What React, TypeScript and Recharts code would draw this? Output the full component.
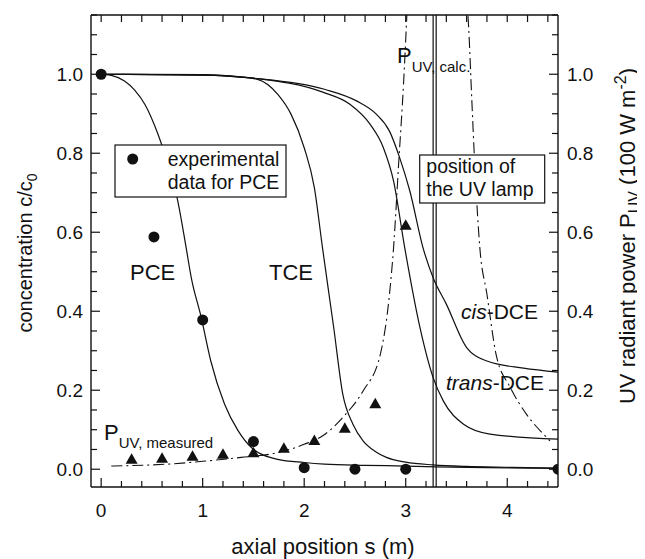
import React from "react";
import { ComposedChart, Line, Scatter, XAxis, YAxis, ReferenceLine } from "recharts";

// axis ticks (labels only on the major ones)
const xTicks = [0, 0.2, 0.4, 0.6, 0.8, 1, 1.2, 1.4, 1.6, 1.8, 2, 2.2, 2.4, 2.6, 2.8, 3, 3.2, 3.4, 3.6, 3.8, 4, 4.2, 4.4];
const yTicks = [0, 0.05, 0.1, 0.15, 0.2, 0.25, 0.3, 0.35, 0.4, 0.45, 0.5, 0.55, 0.6, 0.65, 0.7, 0.75, 0.8, 0.85, 0.9, 0.95, 1, 1.05, 1.1, 1.15];

// model curves, c/c0 vs axial position s (m)
const pceX = [0, 0.1, 0.23, 0.33, 0.43, 0.56, 0.66, 0.755, 0.837, 0.887, 0.985, 1.08, 1.215, 1.35, 1.48, 1.74, 2.0, 2.2, 2.6, 3.0, 3.3, 3.8, 4.5];
const pceC = [1.0, 0.997, 0.983, 0.96, 0.924, 0.848, 0.772, 0.679, 0.561, 0.486, 0.385, 0.274, 0.165, 0.097, 0.055, 0.025, 0.017, 0.013, 0.01, 0.008, 0.006, 0.004, 0.002];

const tceX = [0, 0.5, 1.0, 1.3, 1.54, 1.74, 1.87, 2.0, 2.1, 2.18, 2.29, 2.38, 2.48, 2.58, 2.7, 2.81, 3.0, 3.27, 3.6, 4.0, 4.5];
const tceC = [1.0, 1.0, 0.999, 0.995, 0.987, 0.949, 0.899, 0.814, 0.713, 0.561, 0.36, 0.19, 0.114, 0.072, 0.045, 0.03, 0.018, 0.011, 0.007, 0.005, 0.003];

const cisX = [0, 1.0, 1.5, 2.2, 2.52, 2.71, 2.84, 2.94, 3.04, 3.17, 3.27, 3.4, 3.6, 3.8, 4.16, 4.5];
const cisC = [1.0, 0.998, 0.99, 0.962, 0.932, 0.899, 0.856, 0.789, 0.705, 0.561, 0.485, 0.418, 0.308, 0.274, 0.256, 0.246];

const transX = [0, 1.0, 1.5, 2.19, 2.45, 2.65, 2.78, 2.88, 2.99, 3.14, 3.27, 3.37, 3.57, 3.83, 4.5];
const transC = [1.0, 0.998, 0.99, 0.954, 0.924, 0.873, 0.814, 0.73, 0.561, 0.359, 0.232, 0.173, 0.114, 0.089, 0.076];

// experimental PCE data
const expX = [0, 0.52, 1.0, 1.5, 2.0, 2.5, 3.0, 4.5];
const expC = [1.0, 0.588, 0.378, 0.07, 0.004, 0.0, 0.0, 0.0];

// UV radiant power (100 W m-2)
const puvMeasX = [0.3, 0.6, 0.9, 1.2, 1.5, 1.8, 2.1, 2.4, 2.7, 3.0];
const puvMeasY = [0.025, 0.028, 0.033, 0.038, 0.042, 0.053, 0.073, 0.104, 0.166, 0.618];

const puvCalcLeftX = [0.1, 0.72, 1.0, 1.38, 1.74, 2.0, 2.19, 2.38, 2.58, 2.75, 2.84, 2.88, 2.93, 2.98, 3.02];
const puvCalcLeftY = [0.008, 0.014, 0.02, 0.03, 0.042, 0.063, 0.086, 0.131, 0.198, 0.291, 0.443, 0.56, 0.772, 0.983, 1.2];

const puvCalcRightX = [3.6, 3.62, 3.65, 3.68, 3.73, 3.8, 3.89, 4.03, 4.19, 4.39, 4.42];
const puvCalcRightY = [1.2, 1.118, 0.941, 0.772, 0.561, 0.443, 0.291, 0.207, 0.139, 0.08, 0.072];

const lampX = [3.27, 3.3];

const toPts = (xs: number[], ys: number[]) => xs.map((x, i) => ({ x, y: ys[i] }));
const isMajor = (v: number, step: number) => Math.abs(v / step - Math.round(v / step)) < 1e-6;

const FONT = "'Liberation Sans', Arial, Helvetica, sans-serif";
const INK = "#111";

const BottomTick = (props: any) => {
  const { x, y, payload } = props;
  const major = isMajor(payload.value, 1);
  return (
    <g>
      <line x1={x} y1={y} x2={x} y2={y - (major ? 9 : 6)} stroke={INK} strokeWidth={1.2} />
      {major && (
        <text x={x} y={y + 30} textAnchor="middle" fontSize={19} fontFamily={FONT} fill={INK}>
          {payload.value}
        </text>
      )}
    </g>
  );
};

const TopTick = (props: any) => {
  const { x, y } = props;
  return <line x1={x} y1={y} x2={x} y2={y + 7} stroke={INK} strokeWidth={1.2} />;
};

const LeftTick = (props: any) => {
  const { x, y, payload } = props;
  const major = isMajor(payload.value, 0.2);
  return (
    <g>
      <line x1={x} y1={y} x2={x + (major ? 9 : 6)} y2={y} stroke={INK} strokeWidth={1.2} />
      {major && (
        <text x={x - 8} y={y + 7} textAnchor="end" fontSize={19} fontFamily={FONT} fill={INK}>
          {payload.value.toFixed(1)}
        </text>
      )}
    </g>
  );
};

const RightTick = (props: any) => {
  const { x, y, payload } = props;
  const major = isMajor(payload.value, 0.2);
  return (
    <g>
      <line x1={x} y1={y} x2={x - (major ? 9 : 6)} y2={y} stroke={INK} strokeWidth={1.2} />
      {major && (
        <text x={x + 9} y={y + 7} textAnchor="start" fontSize={19} fontFamily={FONT} fill={INK}>
          {payload.value.toFixed(1)}
        </text>
      )}
    </g>
  );
};

const Dot = (p: any) => <circle cx={p.cx} cy={p.cy} r={5.5} fill={INK} />;
const Tri = (p: any) => {
  const { cx, cy } = p;
  return <polygon points={`${cx - 6},${cy + 4.5} ${cx + 6},${cy + 4.5} ${cx},${cy - 6}`} fill={INK} />;
};

const curveProps = {
  type: "monotone" as const,
  dataKey: "y",
  stroke: INK,
  strokeWidth: 1.2,
  dot: false,
  activeDot: false,
  isAnimationActive: false,
  xAxisId: "x",
};

export default function App() {
  const W = 637;
  const H = 551;
  return (
    <div style={{ position: "relative", width: W, height: H, fontFamily: FONT }}>
      <ComposedChart width={W} height={H} margin={{ top: 6, right: 27, bottom: 32, left: 23 }}>
        <XAxis
          xAxisId="x"
          dataKey="x"
          type="number"
          domain={[-0.1, 4.5]}
          allowDataOverflow
          ticks={xTicks}
          interval={0}
          height={40}
          tickSize={0}
          tickMargin={0}
          tickLine={false}
          axisLine={{ stroke: INK, strokeWidth: 1.4 }}
          tick={BottomTick}
        />
        <XAxis
          xAxisId="top"
          orientation="top"
          dataKey="x"
          type="number"
          domain={[-0.1, 4.5]}
          allowDataOverflow
          ticks={xTicks}
          interval={0}
          height={1}
          tickSize={0}
          tickMargin={0}
          tickLine={false}
          axisLine={{ stroke: INK, strokeWidth: 1.4 }}
          tick={TopTick}
        />
        <YAxis
          yAxisId="left"
          dataKey="y"
          type="number"
          domain={[-0.045, 1.15]}
          allowDataOverflow
          ticks={yTicks}
          interval={0}
          width={60}
          tickSize={0}
          tickMargin={0}
          tickLine={false}
          axisLine={{ stroke: INK, strokeWidth: 1.4 }}
          tick={LeftTick}
        />
        <YAxis
          yAxisId="right"
          orientation="right"
          dataKey="y"
          type="number"
          domain={[-0.045, 1.15]}
          allowDataOverflow
          ticks={yTicks}
          interval={0}
          width={60}
          tickSize={0}
          tickMargin={0}
          tickLine={false}
          axisLine={{ stroke: INK, strokeWidth: 1.4 }}
          tick={RightTick}
        />

        {lampX.map((lx) => (
          <ReferenceLine key={lx} x={lx} xAxisId="x" yAxisId="left" stroke={INK} strokeWidth={1.2} />
        ))}

        <Line {...curveProps} yAxisId="left" data={toPts(pceX, pceC)} />
        <Line {...curveProps} yAxisId="left" data={toPts(tceX, tceC)} />
        <Line {...curveProps} yAxisId="left" data={toPts(cisX, cisC)} />
        <Line {...curveProps} yAxisId="left" data={toPts(transX, transC)} />
        <Line {...curveProps} yAxisId="right" data={toPts(puvCalcLeftX, puvCalcLeftY)} strokeWidth={1.1} strokeDasharray="11 4 2 4" />
        <Line {...curveProps} yAxisId="right" data={toPts(puvCalcRightX, puvCalcRightY)} strokeWidth={1.1} strokeDasharray="11 4 2 4" />

        <Scatter xAxisId="x" yAxisId="left" data={toPts(expX, expC)} dataKey="y" shape={Dot} isAnimationActive={false} />
        <Scatter xAxisId="x" yAxisId="right" data={toPts(puvMeasX, puvMeasY)} dataKey="y" shape={Tri} isAnimationActive={false} />
      </ComposedChart>

      <svg width={W} height={H} style={{ position: "absolute", left: 0, top: 0, pointerEvents: "none" }} fontFamily={FONT} fill={INK}>
        {/* legend box */}
        <rect x={107} y={137} width={171} height={52} fill="#fff" stroke={INK} strokeWidth={1.2} />
        <circle cx={124.7} cy={151} r={5.5} fill={INK} />
        <text x={159.7} y={158} fontSize={19.5}>experimental</text>
        <text x={159.7} y={181} fontSize={19.5}>data for PCE</text>

        {/* lamp box */}
        <rect x={411.7} y={147} width={125} height={48} fill="#fff" stroke={INK} strokeWidth={1.2} />
        <text x={418.3} y={165} fontSize={19.5}>position of</text>
        <text x={418.3} y={188} fontSize={19.5}>the UV lamp</text>

        <text x={122} y={272} fontSize={22}>PCE</text>
        <text x={261} y={272} fontSize={22}>TCE</text>
        <text x={453} y={311} fontSize={21}>
          <tspan fontStyle="italic">cis</tspan>-DCE
        </text>
        <text x={438} y={382} fontSize={21}>
          <tspan fontStyle="italic">trans</tspan>-DCE
        </text>

        <text x={96} y={432} fontSize={22}>
          P<tspan fontSize={15} dy={8}>UV, measured</tspan>
        </text>
        <text x={389} y={55} fontSize={22}>
          P<tspan fontSize={15} dy={9}>UV, calc.</tspan>
        </text>

        {/* axis titles */}
        <text x={315} y={546} fontSize={22} textAnchor="middle">axial position s (m)</text>
        <text x={17} y={245} fontSize={20} textAnchor="middle" transform="rotate(-90 17 245)" dy={7}>
          concentration c/c<tspan fontSize={14} dy={5}>0</tspan>
        </text>
        <text x={619} y={228} fontSize={22} textAnchor="middle" transform="rotate(-90 619 228)" dy={8}>
          UV radiant power P<tspan fontSize={16} dy={5}>UV</tspan>
          <tspan dy={-5}> (100 W m</tspan>
          <tspan fontSize={16} dy={-9}>-2</tspan>
          <tspan dy={9}>)</tspan>
        </text>
      </svg>
    </div>
  );
}
